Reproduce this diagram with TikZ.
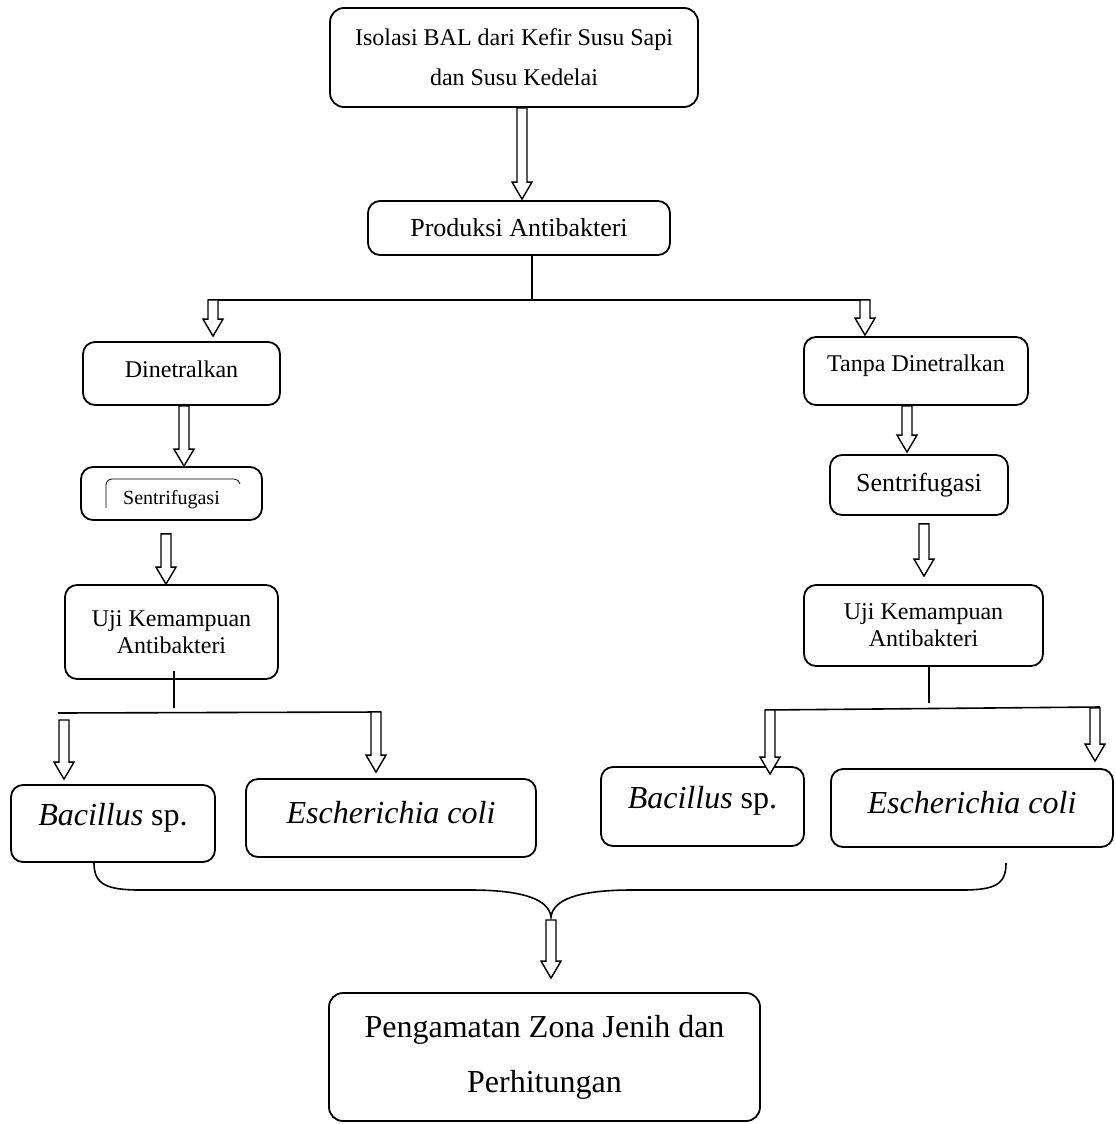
\documentclass[tikz,border=0pt]{standalone}
\usepackage{fontspec}
\setmainfont{Liberation Serif}
\usetikzlibrary{calc}

\begin{document}
\begin{tikzpicture}[x=0.5pt,y=-0.5pt,
  box/.style={draw,line width=0.9pt,rounded corners=6pt,align=center,inner sep=2pt},
  link/.style={line width=0.8pt},
  hollow/.style={line width=0.7pt,fill=white,
    to path={let \p1=(\tikztostart),\p2=(\tikztotarget) in
      (\x1-2.5pt,\y1) -- (\x1-2.5pt,\y2+8.5pt) -- (\x1-5pt,\y2+8.5pt) -- (\x1,\y2)
      -- (\x1+5pt,\y2+8.5pt) -- (\x1+2.5pt,\y2+8.5pt) -- (\x1+2.5pt,\y1) -- cycle}},
  txt/.style={font=\fontsize{12}{20}\selectfont},
  big/.style={font=\fontsize{16}{27.5}\selectfont}]

\useasboundingbox (0,0) rectangle (1115,1124);

\node[box,txt,rounded corners=7pt,minimum width=184pt,minimum height=49.5pt] (isolasi) at (514,57.5)
  {Isolasi BAL dari Kefir Susu Sapi\\dan Susu Kedelai};
\node[box,font=\fontsize{13}{15}\selectfont,minimum width=151pt,minimum height=27pt] (produksi) at (519,228) {Produksi Antibakteri};
\node[box,txt,minimum width=98.5pt,minimum height=31.5pt,text height=8.5pt,text depth=4.5pt] (dinetral) at (181.5,373.5) {Dinetralkan};
\node[box,txt,minimum width=112pt,minimum height=34pt,text height=8.5pt,text depth=8.5pt] (tanpa) at (916,371) {Tanpa Dinetralkan};
\node[box,font=\fontsize{10}{12}\selectfont,minimum width=90.5pt,minimum height=26.5pt,text height=13pt,text depth=2pt] (sentriL) at (171.5,493.5) {Sentrifugasi};
\node[box,font=\fontsize{13}{15}\selectfont,minimum width=89pt,minimum height=30pt] (sentriR) at (919,485) {Sentrifugasi};
\node[box,font=\fontsize{12}{13.5}\selectfont,minimum width=106.5pt,minimum height=47pt] (ujiL) at (171.5,632) {Uji Kemampuan\\Antibakteri};
\node[box,font=\fontsize{12}{13.5}\selectfont,minimum width=119.5pt,minimum height=40.5pt] (ujiR) at (923.5,625.5) {Uji Kemampuan\\Antibakteri};
\node[box,big,minimum width=102pt,minimum height=38.5pt,text height=11pt,text depth=9pt] (bacL) at (113,823.5) {\textit{Bacillus} sp.};
\node[box,big,minimum width=145pt,minimum height=39pt,text height=11pt,text depth=6pt] (ecoL) at (391,818) {\textit{Escherichia coli}};
\node[box,big,minimum width=101.5pt,minimum height=39.5pt,text height=11pt,text depth=9pt] (bacR) at (702.5,806.5) {\textit{Bacillus} sp.};
\node[box,big,minimum width=141pt,minimum height=39pt,text height=11pt,text depth=6pt] (ecoR) at (972,808) {\textit{Escherichia coli}};
\node[box,big,rounded corners=7pt,minimum width=215.5pt,minimum height=64pt] (penga) at (544.5,1057)
  {Pengamatan Zona Jenih dan\\Perhitungan};

\draw (106,508) -- (106,485) to[out=90,in=180] (112,479) -- (234,479) to[out=0,in=100] (240,484);

\coordinate (brL) at (213,300);
\coordinate (brR) at (865,300);
\coordinate (brM) at (532,300);
\coordinate (kL) at (174,708);
\coordinate (kR) at (929,703);
\coordinate (bLL) at (64,720);
\coordinate (bLR) at (376,712);
\coordinate (bRL) at (770,710);
\coordinate (bRR) at (1095,708);
\coordinate (bcL) at (94,863);
\coordinate (bcT) at (551,917);
\coordinate (bcR) at (1006,863);

\draw[link] ([xshift=6.5pt]produksi.south) -- (brM);
\draw[link] ([xshift=-2.5pt]brL) -- ([xshift=2.5pt]brR);
\draw[link] ([xshift=1.25pt,yshift=4.5pt]ujiL.south) -- (kL);
\draw[link] (58,713) -- (381,712);
\draw[link] ([xshift=2.75pt]ujiR.south) -- (kR);
\draw[link] (765,710) -- (1100,707);
\draw[link] (bcL) .. controls (94,884) and (106,890) .. (140,890) -- (470,890)
  .. controls (525,890) and (549,900) .. (bcT)
  .. controls (553,900) and (577,890) .. (632,890) -- (962,890)
  .. controls (996,890) and (1006,884) .. (bcR);

\draw[hollow] ([xshift=4pt]isolasi.south) to ([yshift=0.5pt]produksi.north);
\draw[hollow] (brL) to ([yshift=2.5pt]dinetral.north);
\draw[hollow] (brR) to ([yshift=0.5pt]tanpa.north);
\draw[hollow] ([xshift=1.25pt]dinetral.south) to (sentriL.north);
\draw[hollow] ([xshift=-2.75pt,yshift=-6.5pt]sentriL.south) to (ujiL.north);
\draw[hollow] ([xshift=-4.5pt]tanpa.south) to ([yshift=1pt]sentriR.north);
\draw[hollow] ([xshift=2.5pt,yshift=-4pt]sentriR.south) to ([yshift=4pt]ujiR.north);
\draw[hollow] (bLL) to ([yshift=2.5pt]bacL.north);
\draw[hollow] (bLR) to ([yshift=3pt]ecoL.north);
\draw[hollow] (bRL) to ([yshift=-4pt]bacR.north);
\draw[hollow] (bRR) to ([yshift=3.5pt]ecoR.north);
\draw[hollow] ([yshift=-1.5pt]bcT) to ([yshift=7pt]penga.north);
\end{tikzpicture}
\end{document}
